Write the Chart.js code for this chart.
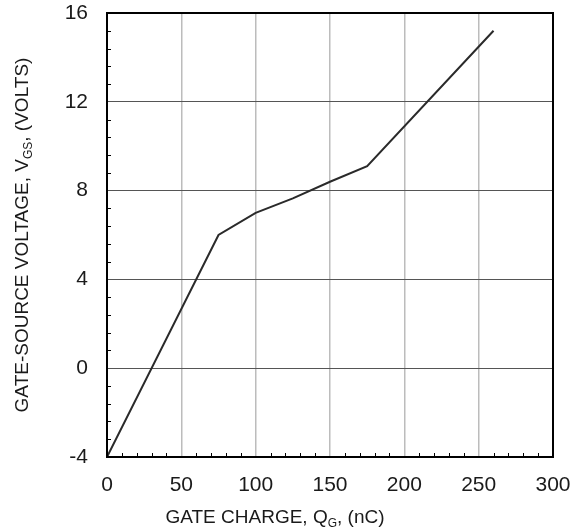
<!DOCTYPE html>
<html>
<head>
<meta charset="utf-8">
<script src="https://cdn.jsdelivr.net/npm/chart.js@4.4.1/dist/chart.umd.min.js"></script>
<style>
  html, body { margin: 0; padding: 0; background: #ffffff; }
  #wrap { width: 574px; height: 531px; }
</style>
</head>
<body>
<div id="wrap"><canvas id="c" width="574" height="531"></canvas></div>
<script>
// ---- data ----
const gateCharge  = [0, 75, 100, 125, 150, 175, 260];      // Q_G (nC)
const gateVoltage = [-4, 6, 7, 7.65, 8.4, 9.1, 15.2];      // V_GS (V)
const xTickValues = [0, 50, 100, 150, 200, 250, 300];
const yTickValues = [-4, 0, 4, 8, 12, 16];
const xTitleParts = [["GATE CHARGE, Q", false], ["G", true], [", (nC)", false]];
const yTitleParts = [["GATE-SOURCE VOLTAGE, V", false], ["GS", true], [", (VOLTS)", false]];

const FONT = "'Liberation Sans', Arial, Helvetica, sans-serif";

const points = gateCharge.map((q, i) => ({ x: q, y: gateVoltage[i] }));

function drawParts(ctx, parts, size) {
  let total = 0;
  const segs = parts.map(([t, sub]) => {
    const fs = sub ? Math.round(size * 0.62) : size;
    ctx.font = fs + "px " + FONT;
    const w = ctx.measureText(t).width;
    total += w;
    return { t, sub, fs, w };
  });
  let x = -total / 2;
  segs.forEach(s => {
    ctx.font = s.fs + "px " + FONT;
    ctx.fillText(s.t, x, s.sub ? size * 0.22 : 0);
    x += s.w;
  });
}

const framePlugin = {
  id: 'frame',
  beforeDatasetsDraw(chart) {
    const { ctx, chartArea: a, scales } = chart;
    ctx.save();
    ctx.strokeStyle = '#000';
    ctx.lineWidth = 1;
    const xs = scales.x, ys = scales.y;
    for (let v = xs.min; v <= xs.max + 1e-9; v += 10) {
      if (Math.abs(v % 50) < 1e-9) continue;
      const px = Math.round(xs.getPixelForValue(v)) + 0.5;
      ctx.beginPath(); ctx.moveTo(px, a.bottom); ctx.lineTo(px, a.bottom - 4); ctx.stroke();
    }
    for (let v = ys.min; v <= ys.max + 1e-9; v += 0.8) {
      const r = ((v - ys.min) / 4);
      if (Math.abs(r - Math.round(r)) < 1e-6) continue;
      const py = Math.round(ys.getPixelForValue(v)) + 0.5;
      ctx.beginPath(); ctx.moveTo(a.left, py); ctx.lineTo(a.left + 4, py); ctx.stroke();
    }
    ctx.restore();
  },
  afterDatasetsDraw(chart) {
    const { ctx, chartArea: a } = chart;
    ctx.save();
    ctx.strokeStyle = '#000';
    ctx.lineWidth = 2;
    ctx.strokeRect(a.left, a.top, a.right - a.left, a.bottom - a.top);
    ctx.restore();
  },
  afterDraw(chart) {
    const { ctx } = chart;
    ctx.save();
    ctx.fillStyle = '#1a1a1a';
    ctx.textBaseline = 'alphabetic';
    ctx.textAlign = 'left';
    ctx.save();
    ctx.translate(275, 523);
    drawParts(ctx, xTitleParts, 19);
    ctx.restore();
    ctx.save();
    ctx.translate(28, 235);
    ctx.rotate(-Math.PI / 2);
    drawParts(ctx, yTitleParts, 19);
    ctx.restore();
    ctx.restore();
  }
};

new Chart(document.getElementById('c'), {
  type: 'scatter',
  data: {
    datasets: [{
      data: points,
      showLine: true,
      borderColor: '#2a2a2a',
      borderWidth: 2,
      pointRadius: 0,
      pointHoverRadius: 0,
      tension: 0,
      fill: false
    }]
  },
  options: {
    responsive: false,
    animation: false,
    events: [],
    layout: { padding: { left: 0, right: 21, top: 13, bottom: 0 } },
    plugins: { legend: { display: false }, tooltip: { enabled: false } },
    scales: {
      x: {
        type: 'linear',
        min: 0, max: 300,
        afterBuildTicks(scale) { scale.ticks = xTickValues.map(v => ({ value: v })); },
        afterFit(scale) { scale.height = 74; scale.paddingLeft = 0; scale.paddingRight = 0; },
        grid: { color: '#bcbcbc', lineWidth: 1.5, drawTicks: false },
        border: { display: false },
        ticks: { color: '#1a1a1a', font: { family: FONT, size: 21 }, padding: 16, maxRotation: 0, autoSkip: false }
      },
      y: {
        type: 'linear',
        min: -4, max: 16,
        afterBuildTicks(scale) { scale.ticks = yTickValues.map(v => ({ value: v })); },
        afterFit(scale) { scale.width = 107; scale.paddingTop = 0; scale.paddingBottom = 0; },
        grid: { color: '#555555', lineWidth: 1, drawTicks: false },
        border: { display: false },
        ticks: { color: '#1a1a1a', font: { family: FONT, size: 21 }, padding: 19, autoSkip: false }
      }
    }
  },
  plugins: [framePlugin]
});
</script>
</body>
</html>
